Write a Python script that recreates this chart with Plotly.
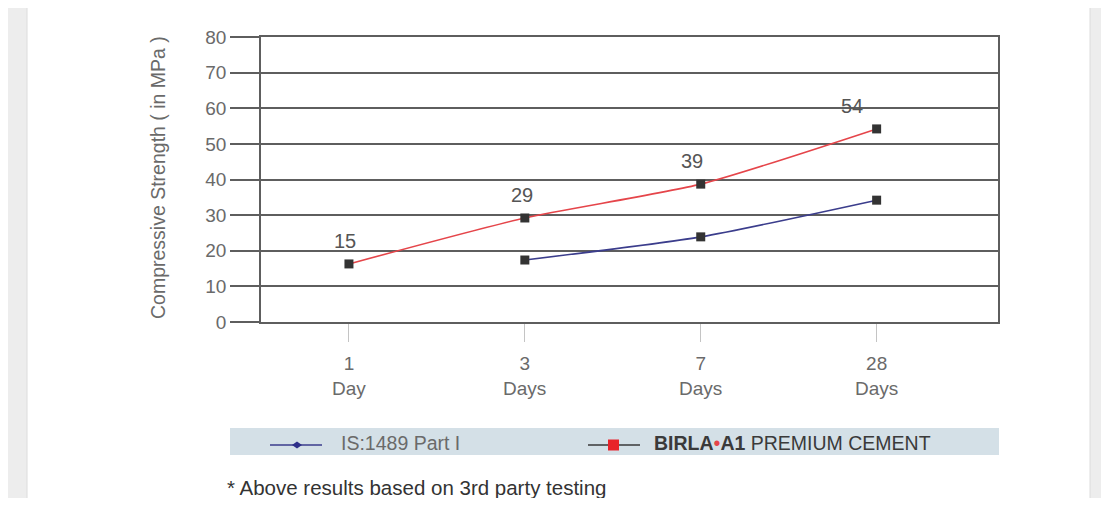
import plotly.graph_objects as go

day_numbers = ["1", "3", "7", "28"]
day_units = ["Day", "Days", "Days", "Days"]
birla_values = [16.3, 29.2, 38.7, 54.2]
birla_labels = ["15", "29", "39", "54"]
is1489_values = [None, 17.4, 23.9, 34.2]
y_ticks = [0, 10, 20, 30, 40, 50, 60, 70, 80]

# page body has an 8px margin, so the figure is offset by 8px
W, H = 1093, 490
FONT = "Liberation Sans, Arial, sans-serif"
GRAY = "#6a6a6a"
GRID = "#5e5e5e"

# plot area in reference (window) pixels
PL, PR, PT, PB = 261, 998, 37, 322


def px(x):
    return (x - PL) / (PR - PL)


def py(y):
    return (PB - y) / (PB - PT)


xidx = list(range(len(day_numbers)))

fig = go.Figure()
fig.add_trace(go.Scatter(
    x=xidx, y=is1489_values, mode="lines+markers",
    line=dict(color="#3b3d8c", width=1.6, shape="spline", smoothing=0.6),
    marker=dict(symbol="square", size=9, color="#333333"),
    showlegend=False, hoverinfo="skip"))
fig.add_trace(go.Scatter(
    x=xidx, y=birla_values, mode="lines+markers",
    line=dict(color="#e5454a", width=1.6, shape="spline", smoothing=0.6),
    marker=dict(symbol="square", size=9, color="#333333"),
    showlegend=False, hoverinfo="skip"))

annotations = []
shifts = [-4, -3, -9, -25]
for i, (v, t) in enumerate(zip(birla_values, birla_labels)):
    annotations.append(dict(x=i, y=v, xref="x", yref="y", text=t, showarrow=False,
                            yshift=23, xshift=shifts[i],
                            font=dict(family=FONT, size=20, color="#555555")))

# second line of category labels
for i, u in enumerate(day_units):
    annotations.append(dict(x=i, y=py(388), xref="x", yref="paper", text=u, showarrow=False,
                            yanchor="middle", font=dict(family=FONT, size=19, color=GRAY)))

# y axis title
annotations.append(dict(x=px(145), y=py(178), xref="paper", yref="paper",
                        text="Compressive Strength ( in MPa )", textangle=-90,
                        yanchor="middle", showarrow=False,
                        font=dict(family=FONT, size=19.5, color=GRAY)))
# legend texts
annotations.append(dict(x=px(339), y=py(443), xref="paper", yref="paper", xanchor="left",
                        yanchor="middle", text="IS:1489 Part I", showarrow=False,
                        font=dict(family=FONT, size=19.5, color=GRAY)))
annotations.append(dict(x=px(652), y=py(443), xref="paper", yref="paper", xanchor="left",
                        yanchor="middle",
                        text="<b>BIRLA</b><span style='color:#e5454a'>•</span><b>A1</b> PREMIUM CEMENT",
                        showarrow=False, font=dict(family=FONT, size=19.5, color="#3a3a3a")))
# footnote
annotations.append(dict(x=px(225), y=py(487), xref="paper", yref="paper", xanchor="left",
                        yanchor="middle",
                        text="* Above results based on 3rd party testing", showarrow=False,
                        font=dict(family=FONT, size=20.5, color="#333333")))

dx, dy = 5, 3.5
cx, cy = 297, 445
diamond = "M {} {} L {} {} L {} {} L {} {} Z".format(
    px(cx - dx), py(cy), px(cx), py(cy - dy), px(cx + dx), py(cy), px(cx), py(cy + dy))

shapes = [
    # white card
    dict(type="rect", xref="paper", yref="paper", x0=px(27), x1=px(1090), y0=py(520), y1=py(7),
         fillcolor="white", line=dict(color="#dcdcdc", width=1), layer="below"),
    # legend band
    dict(type="rect", xref="paper", yref="paper", x0=px(230), x1=px(999), y0=py(455), y1=py(428),
         fillcolor="#d4e0e7", line=dict(width=0), layer="below"),
    # legend line blue
    dict(type="line", xref="paper", yref="paper", x0=px(270), x1=px(322), y0=py(445), y1=py(445),
         line=dict(color="#3b3d8c", width=1.6)),
    dict(type="path", xref="paper", yref="paper", path=diamond,
         fillcolor="#2e2f8a", line=dict(width=0)),
    # legend line red
    dict(type="line", xref="paper", yref="paper", x0=px(588), x1=px(640), y0=py(445), y1=py(445),
         line=dict(color="#3a3a3a", width=1.6)),
    dict(type="rect", xref="paper", yref="paper", x0=px(608), x1=px(619), y0=py(450.5), y1=py(439.5),
         fillcolor="#e8232a", line=dict(width=0)),
]

fig.update_layout(
    width=W, height=H,
    margin=dict(l=PL - 8, r=W - (PR - 8), t=PT - 8, b=H - (PB - 8)),
    paper_bgcolor="#ededed", plot_bgcolor="white",
    font=dict(family=FONT, color=GRAY),
    annotations=annotations, shapes=shapes,
    xaxis=dict(range=[-0.5, 3.69], tickvals=xidx, ticktext=day_numbers,
               showgrid=False, zeroline=False,
               showline=True, mirror=True, linecolor=GRID, linewidth=1.5,
               ticks="outside", ticklen=18, tickcolor="#c4c4c4", tickwidth=1,
               tickfont=dict(family=FONT, size=19, color=GRAY), ticklabelstandoff=5),
    yaxis=dict(range=[0, 80], tickvals=y_ticks, showgrid=True, gridcolor=GRID, gridwidth=1.5,
               zeroline=False, showline=True, mirror=True, linecolor=GRID, linewidth=1.5,
               ticks="outside", ticklen=29, tickcolor=GRID, tickwidth=1.5,
               tickfont=dict(family=FONT, size=19, color=GRAY)),
)

fig.write_html("out.html")
